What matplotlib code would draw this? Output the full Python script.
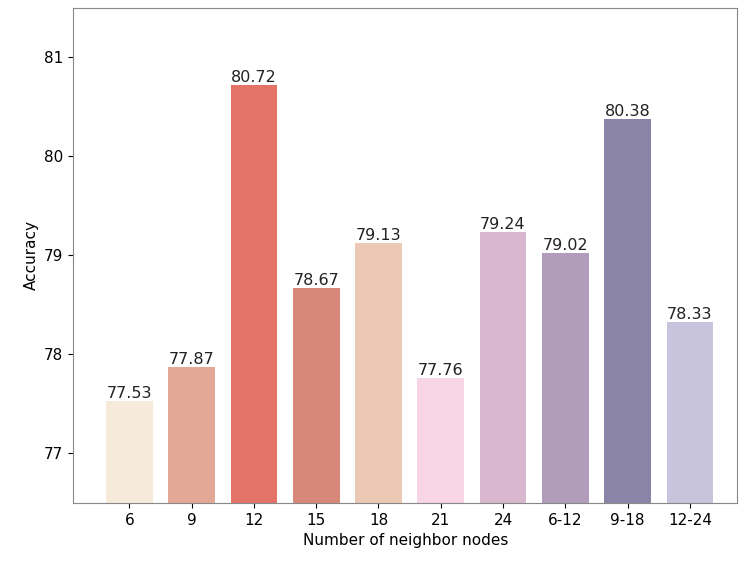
import matplotlib
matplotlib.use("Agg")
import matplotlib.pyplot as plt

categories = ["6", "9", "12", "15", "18", "21", "24", "6-12", "9-18", "12-24"]
accuracy = [77.53, 77.87, 80.72, 78.67, 79.13, 77.76, 79.24, 79.02, 80.38, 78.33]
colors = ["#F6EADA", "#E4A897", "#E27366", "#D88879", "#EBC9B5",
          "#F7D5E4", "#D8B7CF", "#B19DBB", "#8A85A7", "#C8C4DD"]

fig = plt.figure(figsize=(7.47, 5.65), dpi=100)
ax = fig.add_axes([0.098, 0.110, 0.889, 0.876])
x = list(range(len(categories)))
bars = ax.bar(x, accuracy, width=0.75, color=colors)
for b, v in zip(bars, accuracy):
    ax.text(b.get_x() + b.get_width() / 2, v, f"{v:.2f}", ha="center", va="bottom",
            fontsize=11.5, color="#222222")
ax.set_xticks(x)
ax.set_xticklabels(categories, fontsize=11)
ax.set_xlim(-0.9, 9.76)
ax.set_ylim(76.5, 81.5)
ax.set_yticks([77, 78, 79, 80, 81])
ax.tick_params(axis="y", labelsize=11)
ax.set_xlabel("Number of neighbor nodes", fontsize=11)
ax.set_ylabel("Accuracy", fontsize=11)
for s in ax.spines.values():
    s.set_color("#888888")
fig.savefig("out.png", dpi=100)
